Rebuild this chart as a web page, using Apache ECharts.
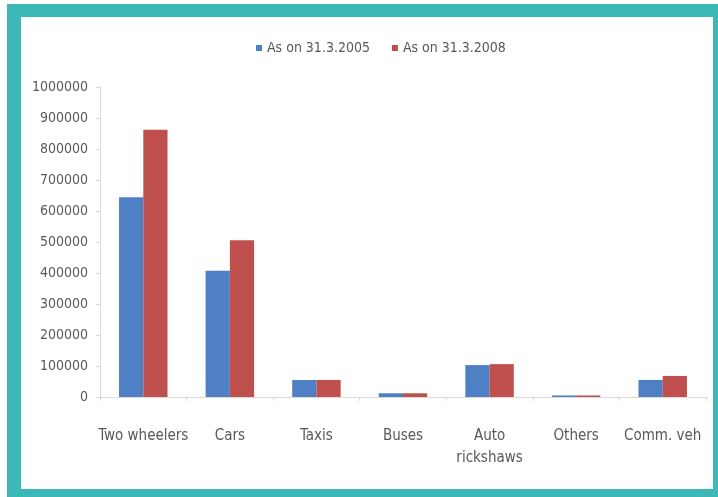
<!DOCTYPE html>
<html>
<head>
<meta charset="utf-8">
<script src="https://cdn.jsdelivr.net/npm/echarts@6/dist/echarts.min.js"></script>
<style>
  html, body { margin: 0; padding: 0; background: #fff; }
  #frame {
    position: absolute; left: 7px; top: 4px; width: 711px; height: 493px;
    background: #3cb9b6;
  }
  #chart {
    position: absolute; left: 21px; top: 17px; width: 692px; height: 472px;
    background: #fff;
  }
</style>
</head>
<body>
<div id="frame"></div>
<div id="chart"></div>
<script>
const categories = ['Two wheelers', 'Cars', 'Taxis', 'Buses', 'Auto\nrickshaws', 'Others', 'Comm. veh']
const seriesNames = ['As on 31.3.2005', 'As on 31.3.2008']
const values2005 = [644000, 407000, 55000, 12000, 103000, 5000, 55000]
const values2008 = [862000, 506000, 55000, 12000, 106000, 5000, 68000]
const yTicks = { min: 0, max: 1000000, interval: 100000 }

const font = '"Liberation Sans Narrow", "DejaVu Sans Condensed", sans-serif'
const textColor = '#595959'
const axisColor = '#d9d9d9'

const chart = echarts.init(document.getElementById('chart'))

function bar(name, data, color) {
  return {
    name,
    type: 'bar',
    data,
    barGap: '0%',
    barCategoryGap: '44%',
    itemStyle: { color },
    emphasis: { disabled: true }
  }
}

chart.setOption({
  animation: false,
  legend: {
    top: 19,
    left: 230,
    itemWidth: 6,
    itemHeight: 6,
    itemGap: 22,
    icon: 'rect',
    textStyle: { color: textColor, fontFamily: font, fontSize: 14 },
    data: seriesNames
  },
  grid: { left: 79, right: 7, top: 70, bottom: 92, containLabel: false },
  xAxis: {
    type: 'category',
    data: categories,
    axisLine: { lineStyle: { color: axisColor } },
    axisTick: { show: true, length: 4, lineStyle: { color: axisColor } },
    axisLabel: {
      color: textColor, fontFamily: font, fontSize: 15,
      margin: 28, lineHeight: 22, interval: 0
    }
  },
  yAxis: {
    type: 'value',
    min: yTicks.min,
    max: yTicks.max,
    interval: yTicks.interval,
    axisLine: { show: true, lineStyle: { color: axisColor } },
    axisTick: { show: true, length: 4, lineStyle: { color: axisColor } },
    splitLine: { show: false },
    axisLabel: {
      color: textColor, fontFamily: font, fontSize: 14, margin: 12,
      formatter: v => String(v)
    }
  },
  series: [
    bar(seriesNames[0], values2005, '#4f7fc4'),
    bar(seriesNames[1], values2008, '#c0504d')
  ]
})
</script>
</body>
</html>
